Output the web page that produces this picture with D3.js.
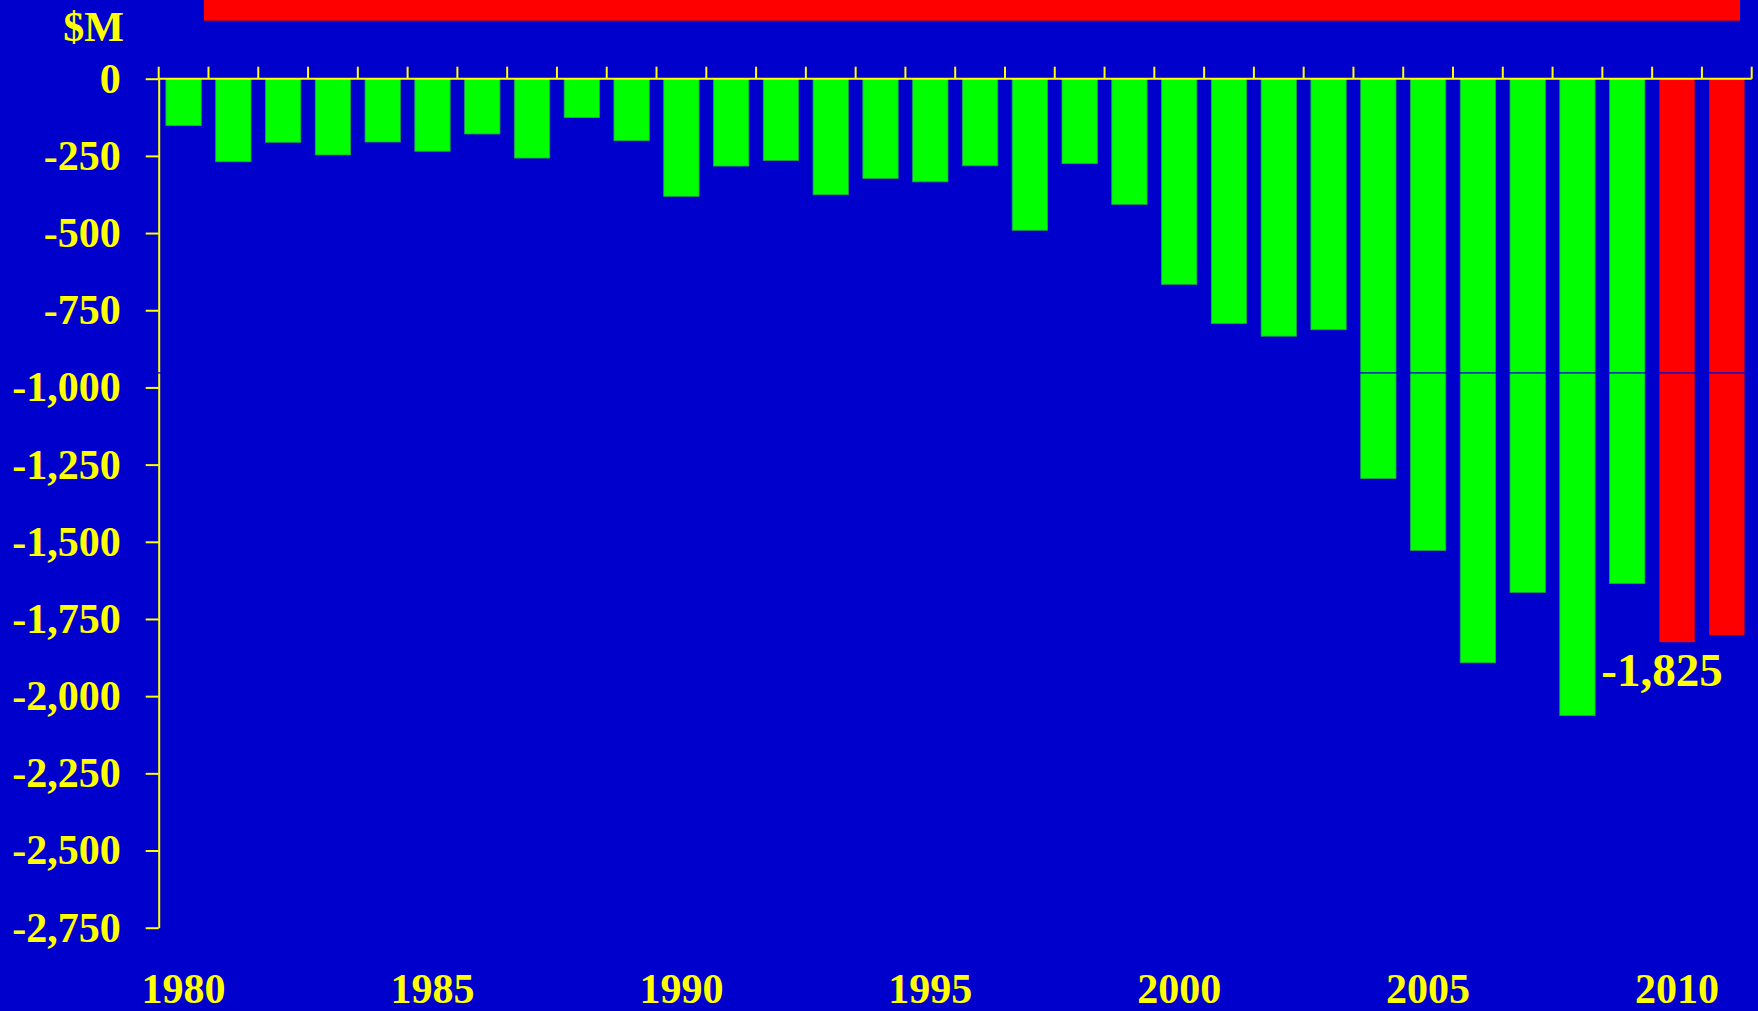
<!DOCTYPE html>
<html>
<head>
<meta charset="utf-8">
<script src="https://cdn.jsdelivr.net/npm/d3@7"></script>
<style>
  html, body { margin: 0; padding: 0; background: #0000cc; overflow: hidden; }
  svg text { font-family: "Liberation Serif", "Times New Roman", serif; font-weight: bold; fill: #ffff00; }
</style>
</head>
<body>
<svg width="1758" height="1011"></svg>
<script>
// years on the x axis
var years = d3.range(1980, 2012);
// net balance, $M
var values = [-152, -269, -206, -247, -205, -235, -179, -257, -126, -201,
              -381, -283, -265, -376, -323, -334, -282, -491, -275, -407,
              -666, -793, -834, -813, -1295, -1528, -1892, -1664, -2063, -1635,
              -1825, -1802];
// years drawn in red (projection)
var projected = [2010, 2011];
// y tick values and year labels
var yTicks = d3.range(0, -2751, -250);
var yearLabels = [1980, 1985, 1990, 1995, 2000, 2005, 2010];
var callout = {year: 2010, text: "-1,825"};
var refValue = -953;

var svg = d3.select('svg');
var W = 1758, H = 1011;

svg.append('rect').attr('width', W).attr('height', H).attr('fill', '#0000cc');

// X range
var xs = d3.scaleBand().domain(years).range([158.7, 1751.7]).paddingInner(0.29).paddingOuter(0.145);
// Y range
var ys = d3.scaleLinear().domain([0, -2750]).range([78.7, 927.7]);

var fmt = d3.formatLocale({decimal: ".", thousands: ",", grouping: [3], currency: ["$", ""], minus: "-"}).format(",");

// red strip at top
svg.append('rect')
  .attr('x', 204).attr('y', 0).attr('width', 1536).attr('height', 20.7)
  .attr('fill', '#ff0000');

// bars
svg.append('g')
  .selectAll('rect')
  .data(years)
  .enter()
  .append('rect')
  .attr('x', function(d) { return xs(d); })
  .attr('y', ys(0))
  .attr('width', xs.bandwidth())
  .attr('height', function(d, i) { return ys(values[i]) - ys(0); })
  .attr('fill', function(d) { return projected.indexOf(d) >= 0 ? '#ff0000' : '#00ff00'; })
  .attr('stroke', function(d) { return projected.indexOf(d) >= 0 ? 'none' : '#22a050'; })
  .attr('stroke-width', 0.8);

// y axis
var yAxis = svg.append('g')
  .attr('transform', 'translate(158.7,0)')
  .call(d3.axisLeft(ys).tickValues(yTicks).tickFormat(fmt).tickSize(13).tickPadding(25).tickSizeOuter(0));
yAxis.select('.domain').attr('stroke', '#ffff00').attr('stroke-width', 2);
yAxis.selectAll('.tick line').attr('stroke', '#ffff00').attr('stroke-width', 2);
yAxis.selectAll('.tick text')
  .attr('font-size', 42)
  .attr('fill', '#ffff00')
  .attr('font-family', '"Liberation Serif", "Times New Roman", serif')
  .attr('font-weight', 'bold');

// x axis line and ticks at band boundaries
var gap = (xs.step() - xs.bandwidth()) / 2;
var bounds = years.map(function(d) { return xs(d) - gap; });
bounds.push(xs(years[years.length - 1]) + xs.bandwidth() + gap);
var xAxis = svg.append('g');
xAxis.append('line')
  .attr('x1', bounds[0]).attr('x2', bounds[bounds.length - 1])
  .attr('y1', ys(0)).attr('y2', ys(0))
  .attr('stroke', '#ffff00').attr('stroke-width', 2);
xAxis.selectAll('line.tk')
  .data(bounds)
  .enter()
  .append('line')
  .attr('class', 'tk')
  .attr('x1', function(d) { return d; }).attr('x2', function(d) { return d; })
  .attr('y1', ys(0)).attr('y2', ys(0) - 12)
  .attr('stroke', '#ffff00').attr('stroke-width', 2);

// year labels
svg.append('g')
  .selectAll('text')
  .data(yearLabels)
  .enter()
  .append('text')
  .attr('x', function(d) { return xs(d) + xs.bandwidth() / 2; })
  .attr('y', 1003)
  .attr('text-anchor', 'middle')
  .attr('font-size', 42)
  .text(function(d) { return d; });

// thin reference line across the chart
svg.append('line')
  .attr('x1', 140).attr('x2', W)
  .attr('y1', ys(refValue)).attr('y2', ys(refValue))
  .attr('stroke', '#0000cc').attr('stroke-width', 1.2);

// unit label
svg.append('text')
  .attr('x', 124).attr('y', 41)
  .attr('text-anchor', 'end')
  .attr('font-size', 42)
  .text('$M');

// callout value
svg.append('text')
  .attr('x', xs(callout.year) - 58)
  .attr('y', ys(values[years.indexOf(callout.year)]) + 44)
  .attr('font-size', 47)
  .text(callout.text);
</script>
</body>
</html>
